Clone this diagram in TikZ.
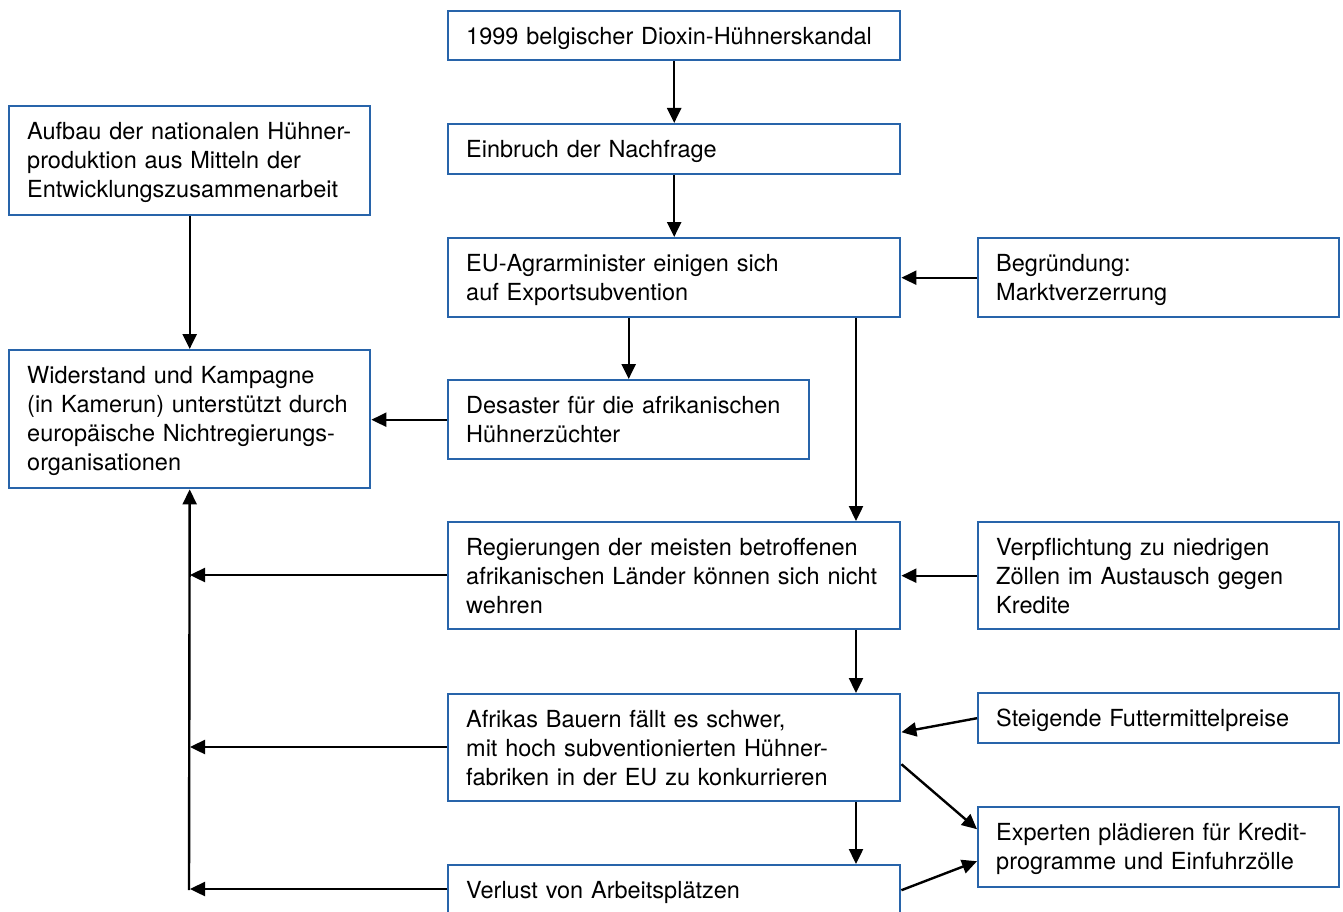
\documentclass[tikz,border=0pt]{standalone}
\usepackage{fontspec}
\setmainfont{TeX Gyre Heros}
\usetikzlibrary{arrows.meta}
\definecolor{boxblue}{RGB}{40,100,170}
\tikzset{
  fbox/.style={draw=boxblue, line width=2.4pt, fill=white, inner xsep=18pt, inner ysep=0pt,
    text height=33.5pt, anchor=north west, align=left,
    font=\fontsize{23.5pt}{29pt}\selectfont},
  wbox/.style={fbox, text width=416pt},
  nbox/.style={fbox, text width=325pt},
  arr/.style={line width=2.4pt, -{Triangle[length=15pt,width=14pt]}}
}
\begin{document}
\begin{tikzpicture}[x=1pt,y=-1pt]
\useasboundingbox (0,0) rectangle (1343,912);
% boxes
\node[wbox, text depth=15.5pt] (top) at (447,10) {1999 belgischer Dioxin-Hühnerskandal};
\node[wbox, text depth=16.5pt] (einb) at (447,123) {Einbruch der Nachfrage};
\node[wbox, text depth=45.5pt] (eu) at (447,237) {EU-Agrarminister einigen sich\\auf Exportsubvention};
\node[nbox, text depth=45.5pt] (begr) at (977,237) {Begründung:\\Marktverzerrung};
\node[nbox, text depth=75.5pt] (aufbau) at (8,105) {Aufbau der nationalen Hühner-\\produktion aus Mitteln der\\Entwicklungszusammenarbeit};
\node[nbox, text depth=104.5pt] (wider) at (8,349) {Widerstand und Kampagne\\(in Kamerun) unterstützt durch\\europäische Nichtregierungs-\\organisationen};
\node[nbox, text depth=45.5pt] (desaster) at (447,379) {Desaster für die afrikanischen\\Hühnerzüchter};
\node[wbox, text depth=73.5pt] (regier) at (447,521) {Regierungen der meisten betroffenen\\afrikanischen Länder können sich nicht\\wehren};
\node[nbox, text depth=73.5pt] (verpf) at (977,521) {Verpflichtung zu niedrigen\\Zöllen im Austausch gegen\\Kredite};
\node[wbox, text depth=73.5pt] (afr) at (447,693) {Afrikas Bauern fällt es schwer,\\mit hoch subventionierten Hühner-\\fabriken in der EU zu konkurrieren};
\node[nbox, text depth=16.5pt] (steig) at (977,692) {Steigende Futtermittelpreise};
\node[nbox, text depth=46.5pt] (exp) at (977,806) {Experten plädieren für Kredit-\\programme und Einfuhrzölle};
\node[wbox, text depth=16.5pt] (verl) at (447,864) {Verlust von Arbeitsplätzen};
% helper coordinates
\coordinate (c1) at (190,575);
\coordinate (c2) at (190,747);
\coordinate (c3) at (190,889);
\coordinate (c0) at (189,890);
\coordinate (v1) at (856,0);
% connectors
\draw[arr] (top) -- (einb);
\draw[arr] (einb) -- (eu);
\draw[arr] (begr.west) -- (eu.east);
\draw[arr] (desaster.north |- eu.south) -- (desaster.north);
\draw[arr] (v1 |- eu.south) -- (v1 |- regier.north);
\draw[arr] (v1 |- regier.south) -- (v1 |- afr.north);
\draw[arr] (v1 |- afr.south) -- (v1 |- verl.north);
\draw[arr] (desaster.west) -- (desaster.west -| wider.east);
\draw[arr] (aufbau) -- (wider);
\draw[arr] (verpf.west) -- (regier.east);
\draw[arr] (regier.west |- c1) -- (c1);
\draw[arr] (afr.west |- c2) -- (c2);
\draw[arr] (verl.west |- c3) -- (c3);
\draw[arr] (c0) -- (wider.south);
\draw[arr] (steig.west) -- ([yshift=15.5pt]afr.east);
\draw[arr] ([yshift=-16.5pt]afr.east) -- ([yshift=18pt]exp.west);
\draw[arr] (verl.east) -- ([yshift=-14pt]exp.west);
\end{tikzpicture}
\end{document}
